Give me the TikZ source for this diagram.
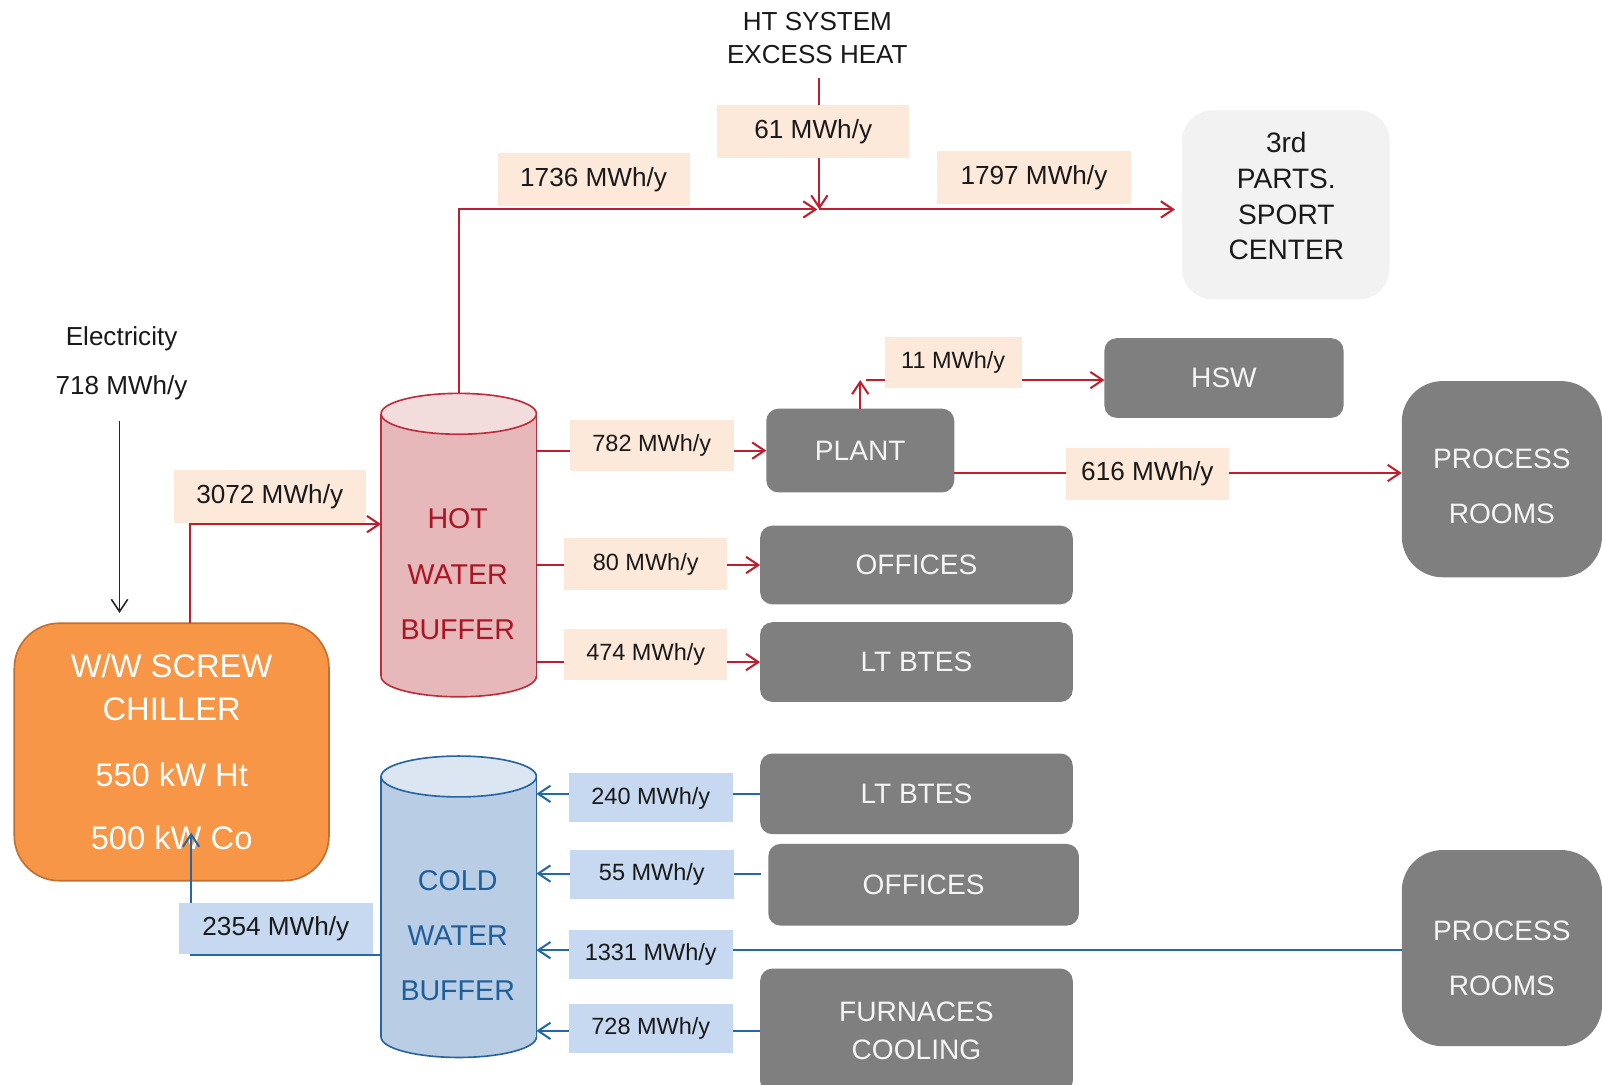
\documentclass[tikz,border=0pt]{standalone}
\usepackage{fontspec}
\setmainfont{Liberation Sans}
\usetikzlibrary{arrows.meta,calc}

\definecolor{hotln}{RGB}{190,30,45}
\definecolor{hotcyl}{RGB}{190,45,60}
\definecolor{hottxt}{RGB}{170,20,35}
\definecolor{hotbody}{RGB}{230,184,185}
\definecolor{hottop}{RGB}{242,220,220}
\definecolor{hotlbl}{RGB}{253,233,218}
\definecolor{coldln}{RGB}{35,105,165}
\definecolor{coldcyl}{RGB}{40,100,160}
\definecolor{coldtxt}{RGB}{30,95,155}
\definecolor{coldbody}{RGB}{185,205,229}
\definecolor{coldtop}{RGB}{220,230,242}
\definecolor{coldlbl}{RGB}{198,217,240}
\definecolor{boxgray}{RGB}{127,127,127}
\definecolor{boxtxt}{RGB}{245,245,245}
\definecolor{sportfill}{RGB}{242,242,242}
\definecolor{chilfill}{RGB}{247,150,70}
\definecolor{chilline}{RGB}{195,110,50}
\definecolor{darktxt}{RGB}{25,25,25}

\begin{document}
\begin{tikzpicture}[x=0.5pt,y=-0.5pt,
  every node/.style={inner sep=0pt, outer sep=0pt},
  gbox/.style={rectangle, rounded corners=6pt, fill=boxgray, text=boxtxt,
    font=\fontsize{13.75}{27}\selectfont, align=center},
  gtext/.style={text=boxtxt, font=\fontsize{13.75}{27}\selectfont, align=center},
  lblbig/.style={rectangle, font=\fontsize{12.8}{15}\selectfont, text=darktxt},
  lblsmall/.style={rectangle, font=\fontsize{11.5}{14}\selectfont, text=darktxt},
  hl/.style={lblbig, fill=hotlbl, minimum width=94pt, minimum height=26pt},
  hs/.style={lblsmall, fill=hotlbl, minimum width=80pt, minimum height=25pt},
  cs/.style={lblsmall, fill=coldlbl, minimum width=80pt, minimum height=24pt},
  tip/.style={-{Straight Barb[length=6pt,width=8pt]}},
  hotline/.style={draw=hotln, line width=1pt, tip},
  coldline/.style={draw=coldln, line width=1pt, tip},
  blkline/.style={draw=black!85, line width=0.8pt, tip},
  cylline/.style={line width=0.8pt}
]
\clip (0,0) rectangle (1568,1061);
\fill[white] (0,0) rectangle (1568,1061);

% ---------- boxes ----------
\node (sport) [rectangle, rounded corners=15pt, fill=sportfill, minimum width=101.5pt,
  minimum height=92.5pt] at (1258.5,200.5) {};
\node (sporttext) [font=\fontsize{13.75}{17.5}\selectfont, align=center, text=darktxt]
  at (1259,192) {3rd\\PARTS.\\SPORT\\CENTER};
\node (hsw)   [gbox, minimum width=117pt, minimum height=39pt]   at (1198,370) {HSW};
\node (plant) [gbox, minimum width=92pt,  minimum height=41pt]   at (842,441)  {PLANT};
\node (hoff)  [gbox, minimum width=153pt, minimum height=38.5pt] at (897,553)  {OFFICES};
\node (hbtes) [gbox, minimum width=153pt, minimum height=39pt]   at (897,648)  {LT BTES};
\node (proc1) [gbox, rounded corners=20pt, minimum width=98pt, minimum height=96pt] at (1470,469) {};
\node (proc1text) [gtext] at (1470,476) {PROCESS\\ROOMS};
\node (cbtes) [gbox, minimum width=153pt, minimum height=39.5pt] at (897,777)  {LT BTES};
\node (coff)  [gbox, minimum width=152pt, minimum height=40pt]   at (904,866)  {OFFICES};
\node (proc2) [gbox, rounded corners=20pt, minimum width=98pt, minimum height=96pt] at (1470,928) {};
\node (proc2text) [gtext] at (1470,938) {PROCESS\\ROOMS};
\node (furn)  [gbox, font=\fontsize{13.75}{19}\selectfont, minimum width=153pt, minimum height=61pt] at (897,1009) {FURNACES\\COOLING};

\node (chiller) [rectangle, rounded corners=22pt, fill=chilfill, draw=chilline, line width=0.8pt,
  minimum width=154pt, minimum height=126pt, text=white, align=center,
  font=\fontsize{16}{21}\selectfont] at (168,736)
  {W/W SCREW\\CHILLER\\[11pt]550 kW Ht\\[10pt]500 kW Co};

% ---------- hot water buffer ----------
\node (hot) [rectangle, minimum width=76pt, minimum height=148.5pt] at (449,533.5) {};
\filldraw[fill=hotbody, draw=hotcyl, cylline] (449,662) ellipse [x radius=38pt, y radius=10pt];
\fill[hotbody] (373,405) rectangle (525,662);
\draw[hotcyl, cylline] (373,405) -- (373,662) (525,405) -- (525,662);
\filldraw[fill=hottop, draw=hotcyl, cylline] (449,405) ellipse [x radius=38pt, y radius=10pt];
\node (hottext) [text=hottxt, align=center, font=\fontsize{14}{27}\selectfont] at (448,562) {HOT\\WATER\\BUFFER};

% ---------- cold water buffer ----------
\node (cold) [rectangle, minimum width=76pt, minimum height=147.5pt] at (449,887.5) {};
\filldraw[fill=coldbody, draw=coldcyl, cylline] (449,1015) ellipse [x radius=38pt, y radius=10pt];
\fill[coldbody] (373,760) rectangle (525,1015);
\draw[coldcyl, cylline] (373,760) -- (373,1015) (525,760) -- (525,1015);
\filldraw[fill=coldtop, draw=coldcyl, cylline] (449,760) ellipse [x radius=38pt, y radius=10pt];
\node (coldtext) [text=coldtxt, align=center, font=\fontsize{14}{27}\selectfont] at (448,916) {COLD\\WATER\\BUFFER};

% ---------- free texts ----------
\node (elec) [align=center, text=darktxt, font=\fontsize{12.75}{24}\selectfont] at (119,356) {Electricity\\718 MWh/y};
\node (ht) [align=center, text=darktxt, font=\fontsize{12.75}{16}\selectfont] at (800,37) {HT SYSTEM\\EXCESS HEAT};

% ---------- connectors ----------
\coordinate (merge) at (802,205);
\coordinate (s11) at (842,372);
\coordinate (c3072) at (186,513);
\coordinate (c2354) at (187,935);
\coordinate (c2354tip) at (187,815);

\draw[blkline, shorten <=10pt, shorten >=5pt] ([xshift=-1pt]elec.south) -- ([xshift=-1pt]elec.south |- chiller.north);
\draw[hotline, shorten <=7pt] (ht.south -| merge) -- (merge);
\draw[hotline] (hot.north) -- (hot.north |- merge) -- ([xshift=-1pt]merge);
\draw[hotline, shorten >=3.5pt] (merge) -- (merge -| sport.west);

\draw[hotline] (c3072 |- chiller.north) -- (c3072) -- (c3072 -| hot.west);
\draw[hotline] (hot.east |- plant.west) -- (plant.west);
\draw[hotline] (hot.east |- hoff.west) -- (hoff.west);
\draw[hotline] (hot.east |- hbtes.west) -- (hbtes.west);
\draw[hotline] (plant.north) -- (s11);
\draw[hotline] ([xshift=3pt]s11) -- (s11 -| hsw.west);
\draw[hotline] ([yshift=-11pt]plant.east) -- ([yshift=-11pt]plant.east -| proc1.west);

\draw[coldline] (cbtes.west) -- (cbtes.west -| cold.east);
\draw[coldline, shorten <=3.5pt] ([yshift=5.5pt]coff.west) -- ([yshift=5.5pt]coff.west -| cold.east);
\draw[coldline] ([yshift=-1pt]proc2.west) -- ([yshift=-1pt]proc2.west -| cold.east);
\draw[coldline] (furn.west) -- (furn.west -| cold.east);
\draw[coldline] (c2354 -| cold.west) -- (c2354) -- (c2354tip);

% ---------- labels ----------
\node (l61)   [hl] at (796,129)  {61 MWh/y};
\node (l1736) [hl] at (581,176)  {1736 MWh/y};
\node (l1797) [hl, minimum width=95pt] at (1012,174) {1797 MWh/y};
\node (l3072) [hl] at (264,486)  {3072 MWh/y};
\node (l616)  [hl, minimum width=80pt, minimum height=25.5pt] at (1123,464) {616 MWh/y};
\node (l2354) [lblbig, fill=coldlbl, minimum width=95pt, minimum height=25pt] at (270,909) {2354 MWh/y};
\node (l782)  [hs] at (638,436) {782 MWh/y};
\node (l80)   [hs] at (632,552) {80 MWh/y};
\node (l474)  [hs] at (632,641) {474 MWh/y};
\node (l11)   [hs, minimum width=67pt] at (933,355) {11 MWh/y};
\node (l240)  [cs] at (637,781)  {240 MWh/y};
\node (l55)   [cs] at (638,856)  {55 MWh/y};
\node (l1331) [cs] at (637,934)  {1331 MWh/y};
\node (l728)  [cs] at (637,1007) {728 MWh/y};
\end{tikzpicture}
\end{document}
